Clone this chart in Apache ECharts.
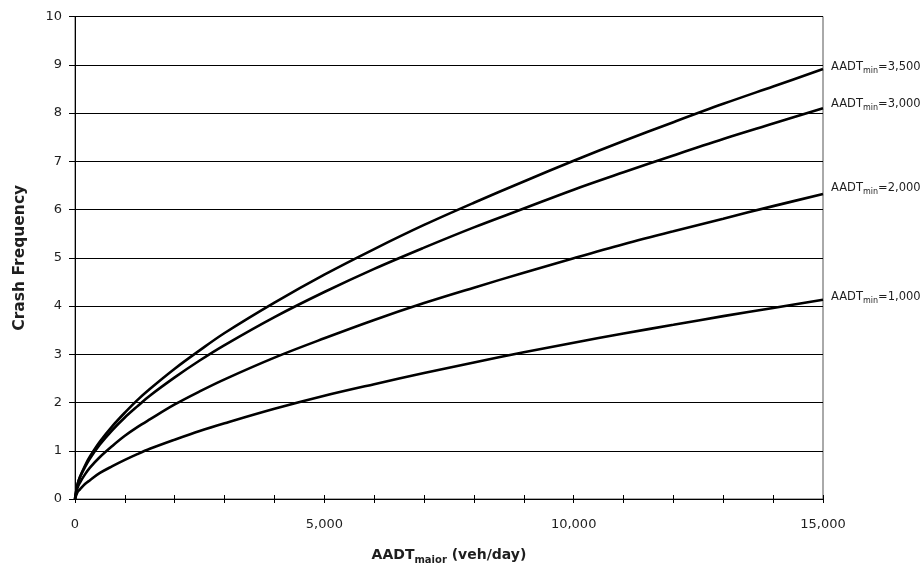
<!DOCTYPE html>
<html>
<head>
<meta charset="utf-8">
<script src="https://cdn.jsdelivr.net/npm/echarts@6/dist/echarts.min.js"></script>
<style>
html,body{margin:0;padding:0;background:#fff;}
#chart{width:921px;height:563px;}
</style>
</head>
<body>
<div id="chart"></div>
<script>
// AADT_major values (veh/day)
const xValues = [0, 50, 100, 200, 300, 500, 750, 1000, 1250, 1500, 2000, 2500, 3000, 4000, 5000, 6000, 7000, 8000, 9000, 10000, 11000, 12000, 13000, 14000, 15000];
// Crash frequency per AADT_min curve
const minLabels = ['3,500', '3,000', '2,000', '1,000'];
const crash3500 = [0, 0.30, 0.46, 0.69, 0.88, 1.19, 1.51, 1.79, 2.05, 2.28, 2.70, 3.08, 3.44, 4.07, 4.65, 5.18, 5.68, 6.14, 6.58, 7.01, 7.42, 7.81, 8.19, 8.55, 8.91];
const crash3000 = [0, 0.30, 0.45, 0.66, 0.84, 1.13, 1.43, 1.69, 1.92, 2.14, 2.52, 2.87, 3.19, 3.77, 4.29, 4.77, 5.21, 5.63, 6.02, 6.41, 6.77, 7.12, 7.46, 7.78, 8.10];
const crash2000 = [0, 0.23, 0.34, 0.51, 0.65, 0.87, 1.10, 1.31, 1.49, 1.65, 1.96, 2.23, 2.48, 2.93, 3.33, 3.71, 4.06, 4.38, 4.69, 4.99, 5.28, 5.55, 5.81, 6.07, 6.32];
const crash1000 = [0, 0.14, 0.20, 0.31, 0.39, 0.54, 0.68, 0.81, 0.93, 1.04, 1.23, 1.41, 1.57, 1.87, 2.14, 2.38, 2.61, 2.83, 3.04, 3.24, 3.43, 3.61, 3.79, 3.96, 4.13];
const xTickLabels = ['0', '5,000', '10,000', '15,000'];

const FONT = 'DejaVu Sans';
const TXT = '#1e1e1e';
const curves = [crash3500, crash3000, crash2000, crash1000];
const labelOffsets = [[8, -3], [8, -5], [8, -7], [8, -4]];

const chart = echarts.init(document.getElementById('chart'), null, {renderer: 'canvas'});

const series = curves.map((vals, i) => ({
  type: 'line',
  name: 'AADTmin=' + minLabels[i],
  data: xValues.map((x, j) => [x, vals[j]]),
  showSymbol: false,
  smooth: 0.35,
  lineStyle: {color: '#000', width: 2.6},
  emphasis: {disabled: true},
  z: 5,
  endLabel: {
    show: true,
    distance: 0,
    offset: labelOffsets[i],
    formatter: () => '{a|AADT}{s|min}{a|=' + minLabels[i] + '}',
    rich: {
      a: {fontFamily: FONT, fontSize: 11.5, color: TXT, lineHeight: 14, verticalAlign: 'bottom'},
      s: {fontFamily: FONT, fontSize: 8, color: TXT, lineHeight: 11, verticalAlign: 'bottom', padding: [0, 0, -2, 0]}
    }
  }
}));

chart.setOption({
  animation: false,
  backgroundColor: '#fff',
  grid: {left: 75, right: 98, top: 16.5, bottom: 64, outerBoundsMode: 'none', containLabel: false,
         show: true, borderColor: '#555', borderWidth: 1, backgroundColor: 'transparent'},
  xAxis: [{
    type: 'value', min: 0, max: 15000, interval: 1000,
    name: '{b|AADT}{bs|major}{b| (veh/day)}',
    nameLocation: 'middle', nameGap: 46,
    nameTextStyle: {
      rich: {
        b: {fontFamily: FONT, fontSize: 14, fontWeight: 'bold', color: TXT, lineHeight: 17, verticalAlign: 'bottom'},
        bs: {fontFamily: FONT, fontSize: 10, fontWeight: 'bold', color: TXT, lineHeight: 13, verticalAlign: 'bottom', padding: [0, 0, -3, 0]}
      }
    },
    axisLine: {show: true, onZero: false, lineStyle: {color: '#000', width: 1}},
    axisTick: {show: true, inside: false, length: 4, lineStyle: {color: '#000', width: 1}},
    axisLabel: {
      margin: 19, fontFamily: FONT, fontSize: 13, color: TXT,
      formatter: v => (v % 5000 === 0 ? xTickLabels[v / 5000] : '')
    },
    splitLine: {show: false}
  }, {
    type: 'value', min: 0, max: 15000, interval: 1000, position: 'bottom',
    axisLine: {show: false},
    axisTick: {show: true, inside: true, length: 4, lineStyle: {color: '#000', width: 1}},
    axisLabel: {show: false},
    splitLine: {show: false}
  }],
  yAxis: {
    type: 'value', min: 0, max: 10, interval: 1,
    name: 'Crash Frequency',
    nameLocation: 'middle', nameGap: 47, nameRotate: 90,
    nameTextStyle: {fontFamily: FONT, fontSize: 15.5, fontWeight: 'bold', color: TXT},
    axisLine: {show: true, lineStyle: {color: '#000', width: 1}},
    axisTick: {show: true, inside: false, length: 6, lineStyle: {color: '#000', width: 1}},
    axisLabel: {margin: 13, fontFamily: FONT, fontSize: 13, color: TXT},
    splitLine: {show: true, lineStyle: {color: '#000', width: 1}}
  },
  series: series
});
</script>
</body>
</html>
